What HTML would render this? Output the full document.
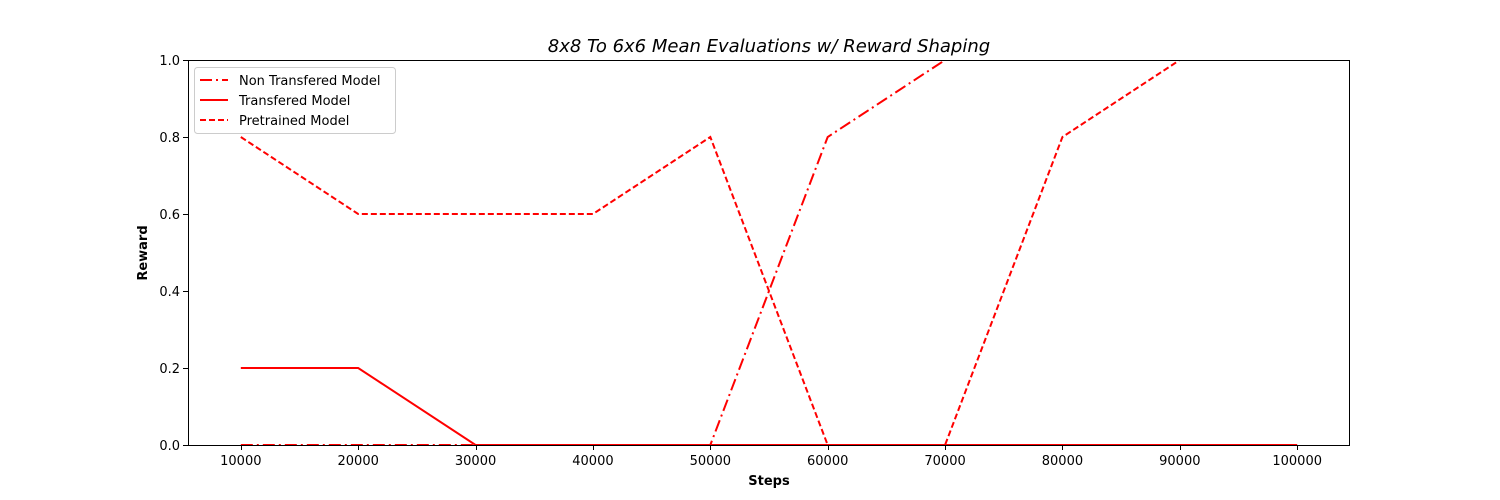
<!DOCTYPE html>
<html><head><meta charset="utf-8"><style>body{margin:0;background:#fff}svg{display:block;font-family:"DejaVu Sans","Liberation Sans",sans-serif}</style></head>
<body>
<svg id="chart" width="1500" height="500">
<rect x="0" y="0" width="1500" height="500" fill="#fff"/>
<text x="769" y="52" text-anchor="middle" font-size="18" font-style="italic">8x8 To 6x6 Mean Evaluations w/ Reward Shaping</text>
<g id="plot"></g>
<text x="769" y="485" text-anchor="middle" font-size="13" font-weight="bold">Steps</text>
<text x="147" y="253" text-anchor="middle" font-size="13" font-weight="bold" transform="rotate(-90 147 253)">Reward</text>
</svg>
<script>
const steps=[10000,20000,30000,40000,50000,60000,70000,80000,90000,100000];
const nonTransfered=[0,0,0,0,0,0.8,1,1,1,1];
const transfered=[0.2,0.2,0,0,0,0,0,0,0,0];
const pretrained=[0.8,0.6,0.6,0.6,0.8,0,0,0.8,1,1];
const xTicks=[10000,20000,30000,40000,50000,60000,70000,80000,90000,100000];
const yTicks=[0,0.2,0.4,0.6,0.8,1.0];
const L=188,R=1350,T=60,B=445;
const x0=5500,x1=104500;
const X=v=>L+(v-x0)/(x1-x0)*(R-L);
const Y=v=>B-v*(B-T);
const ns="http://www.w3.org/2000/svg";
const g=document.getElementById('plot');
function mk(t,a){const e=document.createElementNS(ns,t);for(const k in a)e.setAttribute(k,a[k]);g.appendChild(e);return e;}
const clip=mk('clipPath',{id:'c'});
const cr=document.createElementNS(ns,'rect');
cr.setAttribute('x',L);cr.setAttribute('y',T+1.2);cr.setAttribute('width',R-L);cr.setAttribute('height',B-T);
clip.appendChild(cr);
const series=[[nonTransfered,'12,4,2,4','series-non-transfered'],[transfered,'','series-transfered'],[pretrained,'6,3','series-pretrained']];
series.forEach(([d,dash,name])=>{
 const p=mk('polyline',{points:d.map((v,i)=>X(steps[i])+','+Y(v)).join(' '),fill:'none',stroke:'#ff0000','stroke-width':2,'stroke-dasharray':dash,'clip-path':'url(#c)'});
 
 
});
const frame=mk('rect',{x:L+0.5,y:T+0.5,width:R-L-1,height:B-T,fill:'none',stroke:'#000','stroke-width':1});


xTicks.forEach(v=>{
 const xx=Math.round(X(v))+0.5;
 mk('line',{x1:xx,x2:xx,y1:B,y2:B+5,stroke:'#000'});
 const t=mk('text',{x:X(v),y:B+20,'text-anchor':'middle','font-size':13});t.textContent=v;
 
 
});
yTicks.forEach(v=>{
 const yy=Math.round(Y(v))+0.5;
 mk('line',{x1:L-5,x2:L,y1:yy,y2:yy,stroke:'#000'});
 const t=mk('text',{x:L-8,y:Y(v)+5,'text-anchor':'end','font-size':13});t.textContent=v.toFixed(1);
 
 
});
const lg=mk('rect',{x:194.5,y:67.5,width:201,height:66,rx:3,fill:'#fff',stroke:'#ccc'});


const labels=['Non Transfered Model','Transfered Model','Pretrained Model'];
series.forEach(([d,dash],i)=>{
 const y=80+i*20;
 mk('line',{x1:200,x2:228,y1:y,y2:y,stroke:'#ff0000','stroke-width':2,'stroke-dasharray':dash});
 const t=mk('text',{x:239,y:y+5,'font-size':13});t.textContent=labels[i];
 
 
});
</script>
</body></html>
